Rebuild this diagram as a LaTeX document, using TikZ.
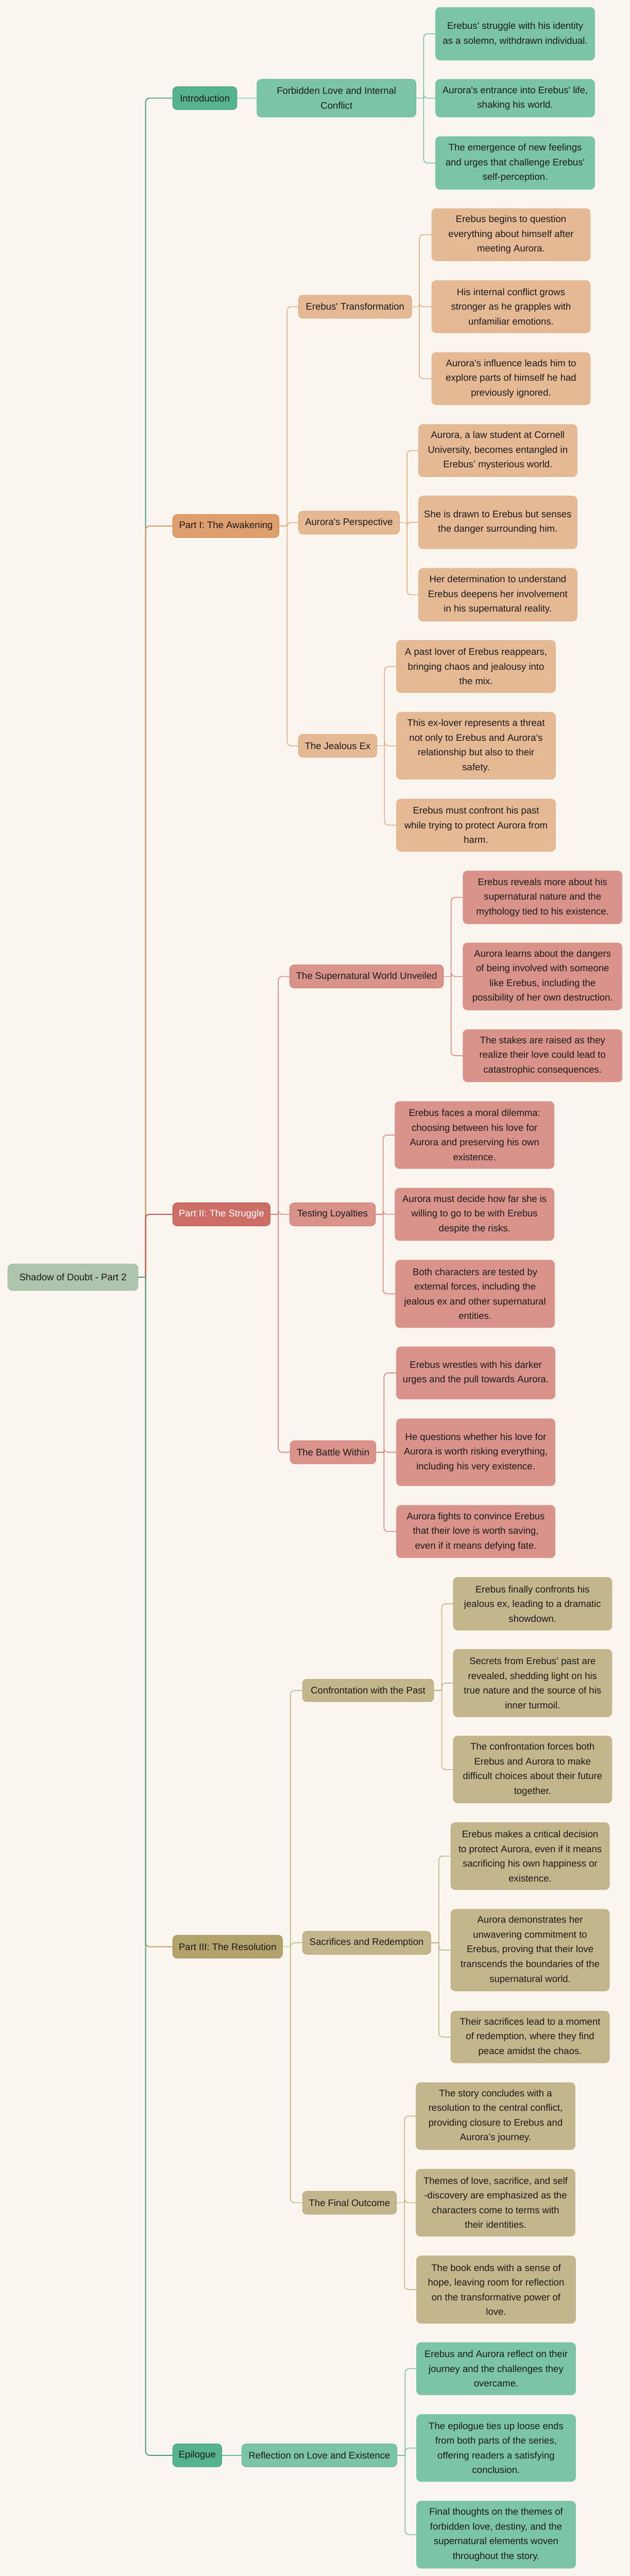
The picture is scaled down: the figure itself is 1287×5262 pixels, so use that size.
\documentclass[tikz,border=0pt]{standalone}
\usepackage{fontspec}
\newfontfamily\mmfont{Liberation Sans}
\definecolor{bg}{HTML}{FAF6EF}
\definecolor{txt}{HTML}{1A1A1A}
\definecolor{rootf}{HTML}{AFC4AC}
\definecolor{rootd}{HTML}{A2BC9E}
% green
\definecolor{gAf}{HTML}{56B38F}
\definecolor{gAd}{HTML}{4A9E7C}
\definecolor{gBf}{HTML}{7CC4A8}
\definecolor{gBd}{HTML}{66B894}
\definecolor{gE1}{HTML}{4A9A78}
\definecolor{gE2}{HTML}{6BBD9B}
% orange
\definecolor{oAf}{HTML}{DF9E6E}
\definecolor{oAd}{HTML}{D98A55}
\definecolor{oBf}{HTML}{E6B995}
\definecolor{oBd}{HTML}{E0A272}
\definecolor{oE1}{HTML}{E0955E}
\definecolor{oE2}{HTML}{E3A678}
% red
\definecolor{rAf}{HTML}{CD6E66}
\definecolor{rAd}{HTML}{C4514A}
\definecolor{rBf}{HTML}{D9938A}
\definecolor{rBd}{HTML}{D27870}
\definecolor{rE1}{HTML}{C9524B}
\definecolor{rE2}{HTML}{D77E76}
% tan
\definecolor{tAf}{HTML}{B3A26B}
\definecolor{tAd}{HTML}{A8955B}
\definecolor{tBf}{HTML}{C4B68C}
\definecolor{tBd}{HTML}{B8A672}
\definecolor{tE1}{HTML}{B8A46A}
\definecolor{tE2}{HTML}{C0AE7C}
\tikzset{
  base/.style={rectangle, rounded corners=9pt, inner sep=0pt, align=center,
    font=\mmfont\fontsize{19.5}{30}\selectfont, text=txt, line width=1pt},
  rootn/.style={base, fill=rootf, draw=rootd},
  gA/.style={base, fill=gAf, draw=gAd},
  gB/.style={base, fill=gBf, draw=gBd},
  gC/.style={base, fill=gBf, draw=gBf},
  oA/.style={base, fill=oAf, draw=oAd},
  oB/.style={base, fill=oBf, draw=oBd},
  oC/.style={base, fill=oBf, draw=oBf},
  rA/.style={base, fill=rAf, draw=rAd, text=white},
  rB/.style={base, fill=rBf, draw=rBd},
  rC/.style={base, fill=rBf, draw=rBf},
  tA/.style={base, fill=tAf, draw=tAd},
  tB/.style={base, fill=tBf, draw=tBd},
  tC/.style={base, fill=tBf, draw=tBf},
  lone/.style={line width=2pt},
  ltwo/.style={line width=1.5pt},
  elb/.style={rounded corners=8pt}
}
\newcommand{\mnode}[7]{\node[#1, minimum width={(#5)-(#3)}, minimum height={(#6)-(#4)}] (#2) at ({((#3)+(#5))/2},{((#4)+(#6))/2}) {#7};}
\begin{document}
\begin{tikzpicture}[x=1pt,y=-1pt]
\fill[bg] (0,0) rectangle (1287,5262);
\useasboundingbox (0,0) rectangle (1287,5262);

% root and level 1
\mnode{rootn}{root}{16}{2582}{282}{2636}{Shadow of Doubt - Part 2}
\mnode{gA}{intro}{353}{177}{484}{224}{Introduction}
\mnode{oA}{p1}{353}{1051}{570}{1098}{Part I: The Awakening}
\mnode{rA}{p2}{353}{2457}{552}{2504}{Part II: The Struggle}
\mnode{tA}{p3}{353}{3953}{577}{4000}{Part III: The Resolution}
\mnode{gA}{epi}{353}{4992}{453}{5039}{Epilogue}

% level 2
\mnode{gB}{forb}{525}{162}{850}{239}{Forbidden Love and Internal\\Conflict}
\mnode{oB}{etrans}{610}{603}{841}{650}{Erebus' Transformation}
\mnode{oB}{apersp}{610}{1044}{816}{1091}{Aurora's Perspective}
\mnode{oB}{jex}{610}{1500}{770}{1547}{The Jealous Ex}
\mnode{rB}{snat}{592}{1971}{906}{2018}{The Supernatural World Unveiled}
\mnode{rB}{testl}{592}{2457}{767}{2504}{Testing Loyalties}
\mnode{rB}{battle}{593}{2943}{768}{2990}{The Battle Within}
\mnode{tB}{conf}{618}{3430}{886}{3476}{Confrontation with the Past}
\mnode{tB}{sacr}{618}{3945}{880}{3992}{Sacrifices and Redemption}
\mnode{tB}{final}{618}{4476}{810}{4523}{The Final Outcome}
\mnode{gB}{refl}{494}{4992}{811}{5039}{Reflection on Love and Existence}

% level 3
\mnode{gC}{i1}{890}{15}{1215}{123}{Erebus' struggle with his identity\\as a solemn, withdrawn individual.}
\mnode{gC}{i2}{890}{162}{1215}{239}{Aurora's entrance into Erebus' life,\\shaking his world.}
\mnode{gC}{i3}{890}{279}{1215}{387}{The emergence of new feelings\\and urges that challenge Erebus'\\self-perception.}

\mnode{oC}{e1}{882}{426}{1206}{533}{Erebus begins to question\\everything about himself after\\meeting Aurora.}
\mnode{oC}{e2}{882}{573}{1206}{680}{His internal conflict grows\\stronger as he grapples with\\unfamiliar emotions.}
\mnode{oC}{e3}{882}{720}{1206}{827}{Aurora’s influence leads him to\\explore parts of himself he had\\previously ignored.}

\mnode{oC}{a1}{855}{867}{1179}{974}{Aurora, a law student at Cornell\\University, becomes entangled in\\Erebus’ mysterious world.}
\mnode{oC}{a2}{855}{1013}{1179}{1121}{She is drawn to Erebus but senses\\the danger surrounding him.}
\mnode{oC}{a3}{855}{1161}{1179}{1269}{Her determination to understand\\Erebus deepens her involvement\\in his supernatural reality.}

\mnode{oC}{j1}{810}{1308}{1135}{1415}{A past lover of Erebus reappears,\\bringing chaos and jealousy into\\the mix.}
\mnode{oC}{j2}{810}{1455}{1135}{1592}{This ex-lover represents a threat\\not only to Erebus and Aurora’s\\relationship but also to their\\safety.}
\mnode{oC}{j3}{810}{1632}{1135}{1739}{Erebus must confront his past\\while trying to protect Aurora from\\harm.}

\mnode{rC}{s1}{946}{1779}{1271}{1887}{Erebus reveals more about his\\supernatural nature and the\\mythology tied to his existence.}
\mnode{rC}{s2}{946}{1926}{1271}{2063}{Aurora learns about the dangers\\of being involved with someone\\like Erebus, including the\\possibility of her own destruction.}
\mnode{rC}{s3}{946}{2103}{1271}{2210}{The stakes are raised as they\\realize their love could lead to\\catastrophic consequences.}

\mnode{rC}{t1}{807}{2250}{1132}{2387}{Erebus faces a moral dilemma:\\choosing between his love for\\Aurora and preserving his own\\existence.}
\mnode{rC}{t2}{807}{2427}{1132}{2534}{Aurora must decide how far she is\\willing to go to be with Erebus\\despite the risks.}
\mnode{rC}{t3}{808}{2574}{1133}{2712}{Both characters are tested by\\external forces, including the\\jealous ex and other supernatural\\entities.}

\mnode{rC}{b1}{810}{2751}{1134}{2858}{Erebus wrestles with his darker\\urges and the pull towards Aurora.}
\mnode{rC}{b2}{810}{2898}{1134}{3035}{He questions whether his love for\\Aurora is worth risking everything,\\including his very existence.}
\mnode{rC}{b3}{810}{3075}{1134}{3182}{Aurora fights to convince Erebus\\that their love is worth saving,\\even if it means defying fate.}

\mnode{tC}{c1}{926}{3222}{1250}{3330}{Erebus finally confronts his\\jealous ex, leading to a dramatic\\showdown.}
\mnode{tC}{c2}{926}{3369}{1250}{3507}{Secrets from Erebus’ past are\\revealed, shedding light on his\\true nature and the source of his\\inner turmoil.}
\mnode{tC}{c3}{926}{3546}{1250}{3683}{The confrontation forces both\\Erebus and Aurora to make\\difficult choices about their future\\together.}

\mnode{tC}{r1}{921}{3723}{1245}{3860}{Erebus makes a critical decision\\to protect Aurora, even if it means\\sacrificing his own happiness or\\existence.}
\mnode{tC}{r2}{921}{3900}{1245}{4067}{Aurora demonstrates her\\unwavering commitment to\\Erebus, proving that their love\\transcends the boundaries of the\\supernatural world.}
\mnode{tC}{r3}{921}{4108}{1245}{4214}{Their sacrifices lead to a moment\\of redemption, where they find\\peace amidst the chaos.}

\mnode{tC}{f1}{850}{4254}{1175}{4391}{The story concludes with a\\resolution to the central conflict,\\providing closure to Erebus and\\Aurora’s journey.}
\mnode{tC}{f2}{850}{4431}{1175}{4568}{Themes of love, sacrifice, and self\\-discovery are emphasized as the\\characters come to terms with\\their identities.}
\mnode{tC}{f3}{851}{4608}{1176}{4746}{The book ends with a sense of\\hope, leaving room for reflection\\on the transformative power of\\love.}

\mnode{gC}{x1}{851}{4785}{1176}{4892}{Erebus and Aurora reflect on their\\journey and the challenges they\\overcame.}
\mnode{gC}{x2}{851}{4932}{1176}{5069}{The epilogue ties up loose ends\\from both parts of the series,\\offering readers a satisfying\\conclusion.}
\mnode{gC}{x3}{851}{5109}{1176}{5246}{Final thoughts on the themes of\\forbidden love, destiny, and the\\supernatural elements woven\\throughout the story.}

% trunk coordinates
\coordinate (troot) at ([xshift=15pt]root.east);
\coordinate (tforb) at ([xshift=15pt]forb.east);
\coordinate (tp1) at ([xshift=16pt]p1.east);
\coordinate (tetrans) at ([xshift=15pt]etrans.east);
\coordinate (tapersp) at ([xshift=15pt]apersp.east);
\coordinate (tjex) at ([xshift=15pt]jex.east);
\coordinate (tp2) at ([xshift=16pt]p2.east);
\coordinate (tsnat) at ([xshift=15pt]snat.east);
\coordinate (ttestl) at ([xshift=15pt]testl.east);
\coordinate (tbattle) at ([xshift=16pt]battle.east);
\coordinate (tp3) at ([xshift=16pt]p3.east);
\coordinate (tconf) at ([xshift=16pt]conf.east);
\coordinate (tsacr) at ([xshift=16pt]sacr.east);
\coordinate (tfinal) at ([xshift=16pt]final.east);
\coordinate (trefl) at ([xshift=16pt]refl.east);

% level 1 edges
\draw[lone, gE1, elb] (troot) |- (intro.west);
\draw[lone, oE1, elb] (troot) |- (p1.west);
\draw[lone, rE1, elb] (troot) |- (p2.west);
\draw[lone, tE1, elb] (troot) |- (p3.west);
\draw[lone, gE1, elb] (troot) |- (epi.west);
\draw[lone, gE1] (root.east) -- (troot);

% introduction
\draw[ltwo, gE2] (intro.east) -- (forb.west);
\draw[ltwo, gE2] (forb.east) -- (tforb);
\draw[ltwo, gE2, elb] (tforb) |- (i1.west);
\draw[ltwo, gE2, elb] (tforb) |- (i2.west);
\draw[ltwo, gE2, elb] (tforb) |- (i3.west);

% part I
\draw[ltwo, oE2] (p1.east) -- (tp1);
\draw[ltwo, oE2, elb] (tp1) |- (etrans.west);
\draw[ltwo, oE2, elb] (tp1) |- (apersp.west);
\draw[ltwo, oE2, elb] (tp1) |- (jex.west);
\draw[ltwo, oE2] (etrans.east) -- (tetrans);
\draw[ltwo, oE2, elb] (tetrans) |- (e1.west);
\draw[ltwo, oE2, elb] (tetrans) |- (e2.west);
\draw[ltwo, oE2, elb] (tetrans) |- (e3.west);
\draw[ltwo, oE2] (apersp.east) -- (tapersp);
\draw[ltwo, oE2, elb] (tapersp) |- (a1.west);
\draw[ltwo, oE2, elb] (tapersp) |- (a2.west);
\draw[ltwo, oE2, elb] (tapersp) |- (a3.west);
\draw[ltwo, oE2] (jex.east) -- (tjex);
\draw[ltwo, oE2, elb] (tjex) |- (j1.west);
\draw[ltwo, oE2, elb] (tjex) |- (j2.west);
\draw[ltwo, oE2, elb] (tjex) |- (j3.west);

% part II
\draw[ltwo, rE2] (p2.east) -- (tp2);
\draw[ltwo, rE2, elb] (tp2) |- (snat.west);
\draw[ltwo, rE2, elb] (tp2) |- (testl.west);
\draw[ltwo, rE2, elb] (tp2) |- (battle.west);
\draw[ltwo, rE2] (snat.east) -- (tsnat);
\draw[ltwo, rE2, elb] (tsnat) |- (s1.west);
\draw[ltwo, rE2, elb] (tsnat) |- (s2.west);
\draw[ltwo, rE2, elb] (tsnat) |- (s3.west);
\draw[ltwo, rE2] (testl.east) -- (ttestl);
\draw[ltwo, rE2, elb] (ttestl) |- (t1.west);
\draw[ltwo, rE2, elb] (ttestl) |- (t2.west);
\draw[ltwo, rE2, elb] (ttestl) |- (t3.west);
\draw[ltwo, rE2] (battle.east) -- (tbattle);
\draw[ltwo, rE2, elb] (tbattle) |- (b1.west);
\draw[ltwo, rE2, elb] (tbattle) |- (b2.west);
\draw[ltwo, rE2, elb] (tbattle) |- (b3.west);

% part III
\draw[ltwo, tE2] (p3.east) -- (tp3);
\draw[ltwo, tE2, elb] (tp3) |- (conf.west);
\draw[ltwo, tE2, elb] (tp3) |- (sacr.west);
\draw[ltwo, tE2, elb] (tp3) |- (final.west);
\draw[ltwo, tE2] (conf.east) -- (tconf);
\draw[ltwo, tE2, elb] (tconf) |- (c1.west);
\draw[ltwo, tE2, elb] (tconf) |- (c2.west);
\draw[ltwo, tE2, elb] (tconf) |- (c3.west);
\draw[ltwo, tE2] (sacr.east) -- (tsacr);
\draw[ltwo, tE2, elb] (tsacr) |- (r1.west);
\draw[ltwo, tE2, elb] (tsacr) |- (r2.west);
\draw[ltwo, tE2, elb] (tsacr) |- (r3.west);
\draw[ltwo, tE2] (final.east) -- (tfinal);
\draw[ltwo, tE2, elb] (tfinal) |- (f1.west);
\draw[ltwo, tE2, elb] (tfinal) |- (f2.west);
\draw[ltwo, tE2, elb] (tfinal) |- (f3.west);

% epilogue
\draw[ltwo, gE2] (epi.east) -- (refl.west);
\draw[ltwo, gE2] (refl.east) -- (trefl);
\draw[ltwo, gE2, elb] (trefl) |- (x1.west);
\draw[ltwo, gE2, elb] (trefl) |- (x2.west);
\draw[ltwo, gE2, elb] (trefl) |- (x3.west);
\end{tikzpicture}
\end{document}
